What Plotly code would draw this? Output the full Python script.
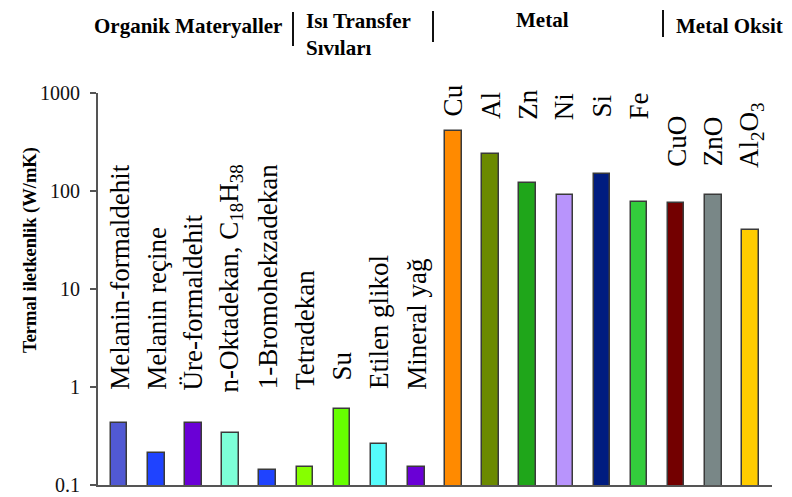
import math
import plotly.graph_objects as go

# ---- data ----
materials = ["Melanin-formaldehit", "Melanin reçine", "Üre-formaldehit",
             "n-Oktadekan, C<sub>18</sub>H<sub>38</sub>", "1-Bromohekzadekan", "Tetradekan",
             "Su", "Etilen glikol", "Mineral yağ",
             "Cu", "Al", "Zn", "Ni", "Si", "Fe", "CuO", "ZnO", "Al<sub>2</sub>O<sub>3</sub>"]
conductivity = [0.43, 0.21, 0.43, 0.34, 0.143, 0.152, 0.60, 0.26, 0.152,
                413, 239, 122, 92, 149, 78, 76, 92, 40]
bar_colors = ["#5159d3", "#1f43ff", "#6a00d6", "#7dffd8", "#1f43ff", "#86ff00",
              "#66ff00", "#55fbfb", "#6a00d6",
              "#ff8a00", "#6b8a00", "#1fa61a", "#b894fc", "#001c80", "#33cc3c",
              "#730000", "#798787", "#ffcc00"]
tick_vals = [0.1, 1, 10, 100, 1000]
tick_text = ["0.1", "1", "10", "100", "1000"]
groups = ["Organik Materyaller", "Isı Transfer<br>Sıvıları", "Metal", "Metal Oksit"]
y_title = "Termal iletkenlik (W/mK)"

# ---- layout geometry (page pixels; page body has an 8px margin) ----
OFF = 8
W, H = 784, 489
L, R, T, B = 90, 20, 85, 12
pw, ph = W - L - R, H - T - B

def px(x):
    return (x - OFF - L) / pw

def py(y):
    return (OFF + H - B - y) / ph

# label bottom positions (page pixel rows)
label_bottom = [391, 391, 391, 394, 390, 391, 381, 390, 391,
                117, 120, 121, 121, 118, 121, 168, 167, 169]

idx = list(range(len(materials)))

fig = go.Figure()
fig.add_trace(go.Bar(
    x=idx, y=conductivity,
    width=0.445,
    marker=dict(color=bar_colors, line=dict(color="#3a3a3a", width=1.5)),
    hoverinfo="skip",
))

serif = "Liberation Serif, DejaVu Serif, serif"
annotations = []
for i, (name, yb) in enumerate(zip(materials, label_bottom)):
    annotations.append(dict(
        x=i, xref="x", y=py(yb), yref="paper",
        text=name, textangle=-90, showarrow=False,
        xanchor="center", yanchor="bottom",
        font=dict(family=serif, size=27, color="#000000"),
        borderpad=0,
    ))

hdr_font = dict(family=serif, size=21, color="#000000")
annotations += [
    dict(x=px(188), y=py(26), xref="paper", yref="paper", text="<b>" + groups[0] + "</b>",
         showarrow=False, xanchor="center", yanchor="middle", font=hdr_font),
    dict(x=px(304), y=py(35), xref="paper", yref="paper",
         text="<b>Isı Transfer</b><br><b>Sıvıları</b>", align="left",
         showarrow=False, xanchor="left", yanchor="middle", font=hdr_font),
    dict(x=px(542), y=py(20), xref="paper", yref="paper", text="<b>" + groups[2] + "</b>",
         showarrow=False, xanchor="center", yanchor="middle", font=hdr_font),
    dict(x=px(729), y=py(26), xref="paper", yref="paper", text="<b>" + groups[3] + "</b>",
         showarrow=False, xanchor="center", yanchor="middle", font=hdr_font),
    dict(x=px(30), y=py(250), xref="paper", yref="paper", text="<b>" + y_title + "</b>",
         textangle=-90, showarrow=False, xanchor="center", yanchor="middle",
         font=dict(family=serif, size=18.5, color="#000000")),
]

shapes = []
for (x0, y0, y1) in [(293, 12, 46), (433, 11, 42), (663, 10, 37)]:
    shapes.append(dict(type="line", xref="paper", yref="paper",
                       x0=px(x0), x1=px(x0), y0=py(y0), y1=py(y1),
                       line=dict(color="#111111", width=2)))

fig.update_layout(
    width=W, height=H,
    margin=dict(l=L, r=R, t=T, b=B),
    paper_bgcolor="white", plot_bgcolor="white",
    showlegend=False,
    annotations=annotations,
    shapes=shapes,
    bargap=0,
)
fig.update_xaxes(range=[-0.57, 17.58], showticklabels=False, showgrid=False,
                 zeroline=False, showline=True, linecolor="#555555", linewidth=2,
                 ticks="")
fig.update_yaxes(type="log", range=[-1, 3], tickvals=tick_vals, ticktext=tick_text,
                 showgrid=False, zeroline=False, showline=True, linecolor="#555555",
                 linewidth=2, ticks="outside", ticklen=6, tickwidth=2, tickcolor="#555555",
                 ticklabelstandoff=6, automargin=False,
                 tickfont=dict(family=serif, size=20, color="#111111"))

fig.write_html("out.html")
